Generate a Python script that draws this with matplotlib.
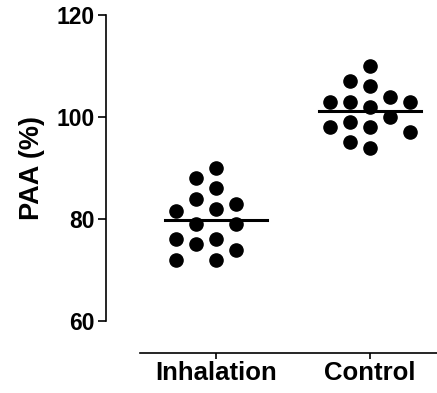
import numpy as np
import matplotlib.pyplot as plt

plt.rcParams['font.family'] = ['Liberation Sans', 'DejaVu Sans']
plt.rcParams['font.weight'] = 'bold'

groups = ['Inhalation', 'Control']
inhalation = [90, 88, 86, 84, 83, 82, 81.5, 79, 79, 76, 76, 75, 74, 72, 72]
control = [110, 107, 106, 104, 103, 103, 103, 102, 100, 99, 98, 98, 97, 95, 94]


def swarm_x(vals, center, gap=0.13, thresh=3.5):
    # simple greedy swarm: put each point in the nearest free column
    order = [0, -1, 1, -2, 2, -3, 3]
    placed = {}
    xs = []
    for v in vals:
        for k in order:
            if all(abs(v - u) >= thresh for u in placed.get(k, [])):
                placed.setdefault(k, []).append(v)
                xs.append(center + k * gap)
                break
    return xs


fig = plt.figure(figsize=(4.37, 3.93), dpi=100)
ax = fig.add_axes([106/437, 1 - 353/393, 331/437, (353 - 15)/393])

for i, vals in enumerate([inhalation, control]):
    ax.scatter(swarm_x(vals, i), vals, s=90, color='black', zorder=3)
    m = np.mean(vals)
    ax.plot([i - 0.33, i + 0.33], [m, m], color='black', lw=2.2, zorder=4)

ymin, ymax = 53.7, 120
ax.set_xlim(-0.714, 1.435)
ax.set_ylim(ymin, ymax)
ax.set_yticks([60, 80, 100, 120])
ax.set_xticks([0, 1])
ax.set_xticklabels(groups, fontsize=18.5, fontweight='bold')
ax.tick_params(axis='y', labelsize=16.5, length=6, width=1.2, pad=2)
ax.tick_params(axis='x', length=4, width=1.2, pad=2)
for lab in ax.get_yticklabels():
    lab.set_fontweight('bold')

ax.spines['top'].set_visible(False)
ax.spines['right'].set_visible(False)
ax.spines['left'].set_bounds(60, 120)
ax.spines['bottom'].set_bounds(-0.494, 1.435)
ax.spines['left'].set_linewidth(1.2)
ax.spines['bottom'].set_linewidth(1.2)
ax.set_ylabel('PAA (%)', fontsize=19.5, fontweight='bold')
# label centred on the 60-120 span of the y axis
ax.yaxis.set_label_coords(-0.183, (90 - ymin) / (ymax - ymin))

fig.savefig('out.png', dpi=100)
